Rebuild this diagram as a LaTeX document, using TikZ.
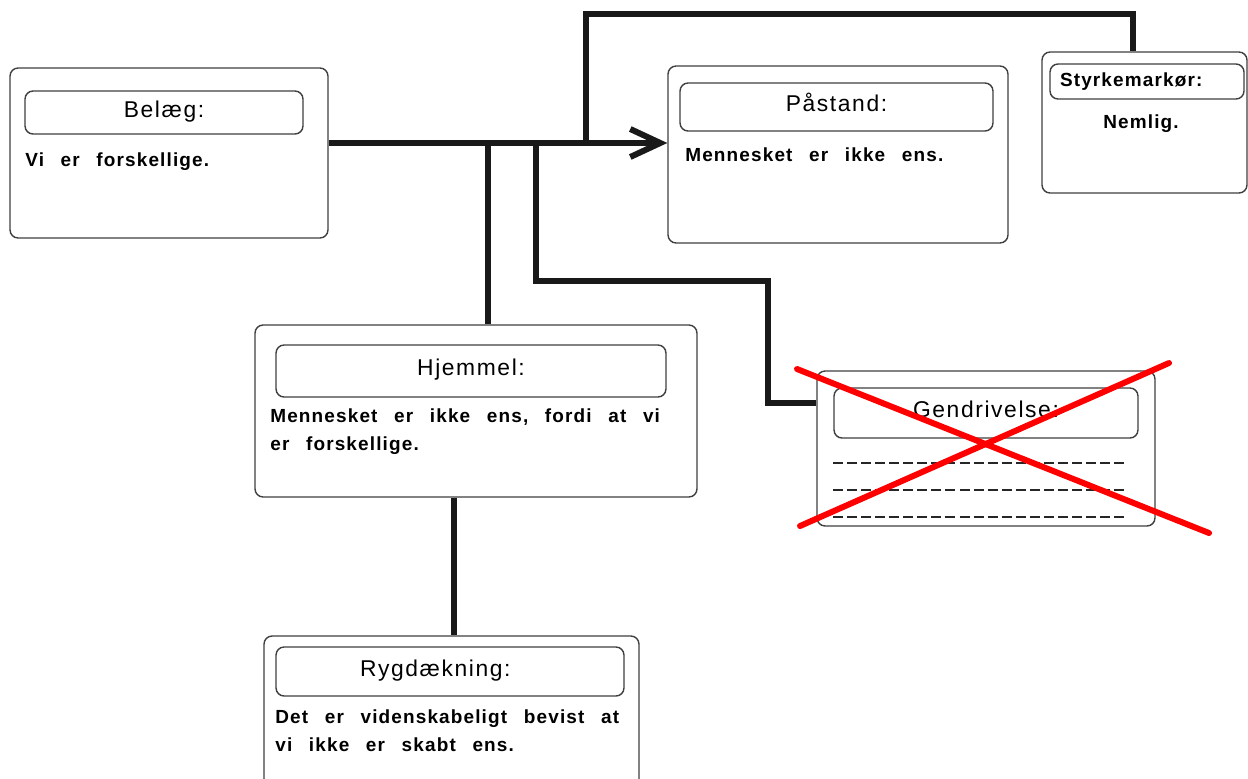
\documentclass[tikz,border=0pt]{standalone}
\usepackage{fontspec}
\setmainfont{Liberation Sans}
\newfontfamily\titlefont{Liberation Sans}[LetterSpace=7]
\newfontfamily\bodyfont{Liberation Sans}[LetterSpace=6,WordSpace=2.6]
\usetikzlibrary{arrows.meta}
\tikzset{
  card/.style={draw=black!75, line width=0.8pt, rounded corners=0.16cm, fill=white},
  head/.style={card, font=\titlefont\fontsize{13}{15}\selectfont, text height=0.75em, text depth=0.2em},
  body/.style={font=\bodyfont\bfseries\fontsize{10.8}{15.9}\selectfont, inner sep=0pt, anchor=north west, align=left},
  link/.style={line width=3.4pt, black!90},
  strike/.style={line width=3.4pt, red, line cap=round},
  ruled/.style={black!85, line width=0.8pt, dash pattern=on 5.7pt off 2.3pt}
}
\begin{document}
\begin{tikzpicture}[x=0.02cm, y=-0.02cm]
  \useasboundingbox (0,0) rectangle (1248,778);
  \fill[white] (0,0) rectangle (1248,778);
  % boxes
  \node[card, minimum width=6.36cm, minimum height=3.4cm] (belaeg) at (169,153) {};
  \node[card, minimum width=6.8cm, minimum height=3.54cm] (paastand) at (838,154.5) {};
  \node[card, minimum width=4.1cm, minimum height=2.82cm] (styrke) at (1144.5,122.5) {};
  \node[card, minimum width=8.84cm, minimum height=3.44cm] (hjemmel) at (476,411) {};
  \node[card, minimum width=6.76cm, minimum height=3.1cm] (gendriv) at (986,448.5) {};
  \node[card, minimum width=7.5cm, minimum height=3.2cm] (ryg) at (451.5,716) {};
  % headers
  \node[head, minimum width=5.56cm, minimum height=0.86cm] (belaegH) at (164,112.5) {Belæg:};
  \node[head, minimum width=6.26cm, minimum height=0.96cm] (paastandH) at (836.5,107) {Påstand:};
  \node[head, minimum width=3.88cm, minimum height=0.7cm, text width=3.48cm, inner xsep=0.2cm, align=left,
        font=\bodyfont\bfseries\fontsize{10.8}{12}\selectfont] (styrkeH) at (1147,81.5) {Styrkemarkør:};
  \node[head, minimum width=7.8cm, minimum height=1.04cm] (hjemmelH) at (471,371) {Hjemmel:};
  \node[head, minimum width=6.08cm, minimum height=1cm] (gendrivH) at (986,413) {Gendrivelse:};
  \node[head, minimum width=6.96cm, minimum height=0.98cm, text width=3.6cm, inner xsep=1.68cm, align=left] (rygH) at (450,671.5) {Rygdækning:};
  % texts
  \node[body] (belaegT) at (25,152) {Vi er forskellige.};
  \node[body] (paastandT) at (685,147) {Mennesket er ikke ens.};
  \node[body] (styrkeT) at (1103,114) {Nemlig.};
  \node[body] (hjemmelT) at (270,408) {Mennesket er ikke ens, fordi at vi\\er forskellige.};
  \node[body] (rygT) at (275,709) {Det er videnskabeligt bevist at\\vi ikke er skabt ens.};
  % connectors
  \coordinate (hub1) at (488,143);
  \coordinate (hub2) at (536,143);
  \coordinate (hub3) at (586,143);
  \coordinate (gbend) at (768,281);
  \coordinate (gin) at (817,403);
  \coordinate (top) at (1133,14);
  \coordinate (back) at (454,560);
  \draw[link, -{Straight Barb[length=0.6cm,width=0.56cm]}] (belaeg.east |- hub1) -- (paastand.west |- hub1);
  \draw[link] (hub1) -- (hub1 |- hjemmel.north);
  \draw[link] (hub2) |- (gbend) |- (gendriv.west |- gin);
  \draw[link] (hub3) |- (top) -- (top |- styrke.north);
  \draw[link] (back |- hjemmel.south) -- (back |- ryg.north);
  % struck out
  \foreach \y in {463,490,517}
    \draw[ruled] (833,\y) -- (1127,\y);
  \draw[strike] (797,369) -- (1209,533);
  \draw[strike] (800,526) -- (1169,363);
\end{tikzpicture}
\end{document}
